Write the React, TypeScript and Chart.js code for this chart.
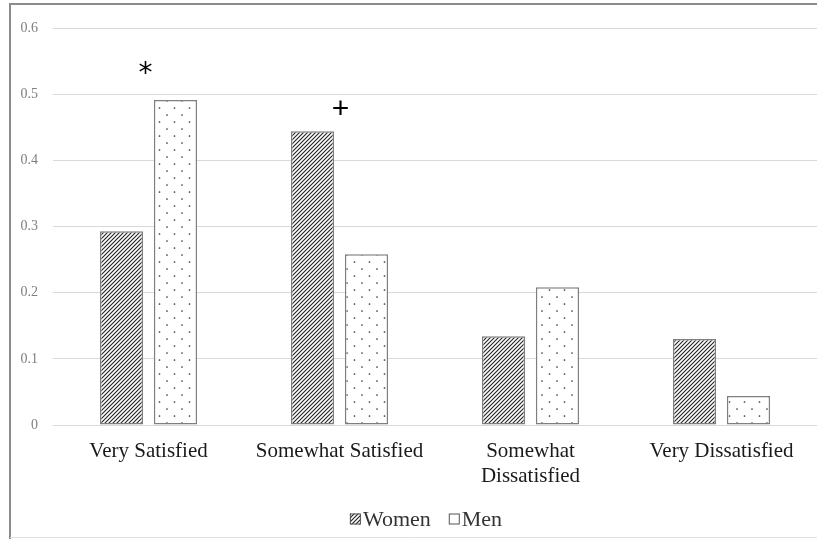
import React, { useEffect, useRef } from "react";
import { Chart, registerables } from "chart.js";

Chart.register(...registerables);

const categories: (string | string[])[] = [
  "Very Satisfied",
  "Somewhat Satisfied",
  ["Somewhat", "Dissatisfied"],
  "Very Dissatisfied",
];
const women = [0.293, 0.444, 0.134, 0.13];
const men = [0.491, 0.258, 0.208, 0.044];
const seriesNames = ["Women", "Men"];
const markers = ["*", "+", "", ""];
const markerValues = [0.53, 0.476, null, null];
const yMax = 0.6;
const yStep = 0.1;

function makeHatch(): CanvasPattern | string {
  const c = document.createElement("canvas");
  c.width = 4;
  c.height = 4;
  const x = c.getContext("2d");
  if (!x) return "#555";
  x.fillStyle = "#ffffff";
  x.fillRect(0, 0, 4, 4);
  x.strokeStyle = "#222222";
  x.lineWidth = 1.1;
  x.beginPath();
  x.moveTo(0, 4);
  x.lineTo(4, 0);
  x.moveTo(-1, 1);
  x.lineTo(1, -1);
  x.moveTo(3, 5);
  x.lineTo(5, 3);
  x.stroke();
  return x.createPattern(c, "repeat") || "#555";
}

function makeDots(): CanvasPattern | string {
  const c = document.createElement("canvas");
  c.width = 15;
  c.height = 14;
  const x = c.getContext("2d");
  if (!x) return "#fff";
  x.fillStyle = "#ffffff";
  x.fillRect(0, 0, 15, 14);
  x.fillStyle = "#333333";
  x.beginPath();
  x.arc(2, 3, 0.85, 0, Math.PI * 2);
  x.arc(9.5, 10, 0.85, 0, Math.PI * 2);
  x.fill();
  return x.createPattern(c, "repeat") || "#fff";
}

const framePlugin = {
  id: "frame",
  beforeDraw(chart: any) {
    const ctx = chart.ctx;
    ctx.save();
    ctx.fillStyle = "#ffffff";
    ctx.fillRect(0, 0, chart.width, chart.height);
    ctx.strokeStyle = "#8c8c8c";
    ctx.lineWidth = 2;
    ctx.beginPath();
    ctx.moveTo(10, chart.height);
    ctx.lineTo(10, 4);
    ctx.lineTo(chart.width, 4);
    ctx.stroke();
    ctx.strokeStyle = "#e0e0e0";
    ctx.lineWidth = 1;
    ctx.beginPath();
    ctx.moveTo(10, chart.height - 1.5);
    ctx.lineTo(chart.width, chart.height - 1.5);
    ctx.stroke();
    ctx.restore();
  },
};

const markerPlugin = {
  id: "markers",
  afterDatasetsDraw(chart: any) {
    const ctx = chart.ctx;
    const xs = chart.scales.x;
    const ys = chart.scales.y;
    ctx.save();
    ctx.fillStyle = "#000";
    ctx.textAlign = "center";
    ctx.textBaseline = "middle";
    markers.forEach((m, i) => {
      const v = markerValues[i];
      if (!m || v == null) return;
      ctx.font = m === "*" ? "28px 'DejaVu Sans'" : "30px 'Liberation Sans'";
      const dx = m === "*" ? -3 : 1;
      ctx.fillText(m, xs.getPixelForValue(i) + dx, ys.getPixelForValue(v));
    });
    ctx.restore();
  },
};

const legendPlugin = {
  id: "customLegend",
  afterDraw(chart: any) {
    const ctx = chart.ctx;
    const area = chart.chartArea;
    ctx.save();
    ctx.font = "22px 'Liberation Serif'";
    ctx.textBaseline = "middle";
    ctx.textAlign = "left";
    const box = 11;
    const gap = 2;
    const itemGap = 18;
    const widths = seriesNames.map((n) => box + gap + ctx.measureText(n).width);
    const total = widths.reduce((a, b) => a + b, 0) + itemGap * (seriesNames.length - 1);
    let x = (area.left + area.right) / 2 - 9 - total / 2;
    const y = chart.height - 20;
    seriesNames.forEach((n, i) => {
      const ds = chart.data.datasets[i];
      ctx.fillStyle = i === 0 ? ds.backgroundColor : "#ffffff";
      ctx.fillRect(x, y - box / 2, box, box);
      ctx.strokeStyle = "#555555";
      ctx.lineWidth = 1;
      ctx.strokeRect(x + 0.5, y - box / 2 + 0.5, box - 1, box - 1);
      ctx.fillStyle = "#333333";
      ctx.fillText(n, x + box + gap, y + 1);
      x += widths[i] + itemGap;
    });
    ctx.restore();
  },
};

export default function App() {
  const ref = useRef<HTMLCanvasElement>(null);
  useEffect(() => {
    if (!ref.current) return;
    const hatch = makeHatch();
    const dots = makeDots();
    const chart = new Chart(ref.current, {
      type: "bar",
      data: {
        labels: categories,
        datasets: [
          {
            label: seriesNames[0],
            data: women,
            backgroundColor: hatch as any,
            borderColor: "#7f7f7f",
            borderWidth: 1.5,
            borderSkipped: false,
            categoryPercentage: 0.565,
            barPercentage: 0.8,
          },
          {
            label: seriesNames[1],
            data: men,
            backgroundColor: dots as any,
            borderColor: "#7f7f7f",
            borderWidth: 1.5,
            borderSkipped: false,
            categoryPercentage: 0.565,
            barPercentage: 0.8,
          },
        ],
      },
      options: {
        animation: false,
        responsive: false,
        maintainAspectRatio: false,
        layout: { padding: { left: 0, right: 0, top: 28, bottom: 39 } },
        scales: {
          x: {
            grid: { display: false },
            border: { display: false },
            ticks: {
              color: "#1a1a1a",
              font: { family: "'Liberation Serif'", size: 21, lineHeight: 1.2 },
              padding: 6,
              maxRotation: 0,
              autoSkip: false,
            },
            afterFit(scale: any) {
              scale.height = 75;
            },
          },
          y: {
            min: 0,
            max: yMax,
            grid: { color: "#d9d9d9", lineWidth: 1, drawTicks: false },
            border: { display: false },
            ticks: {
              stepSize: yStep,
              padding: 15,
              color: "#808080",
              font: { family: "'Liberation Serif'", size: 14 },
              callback: (v: any) => (Number(v) === 0 ? "0" : Number(v).toFixed(1)),
            },
            afterFit(scale: any) {
              scale.width = 53;
            },
          },
        },
        plugins: {
          legend: { display: false },
          tooltip: { enabled: false },
        },
      },
      plugins: [framePlugin, markerPlugin, legendPlugin],
    });
    return () => chart.destroy();
  }, []);
  return (
    <div style={{ position: "fixed", left: 0, top: 0, width: 817, height: 539, background: "#fff" }}>
      <canvas ref={ref} width={817} height={539} style={{ display: "block", width: 817, height: 539 }} />
    </div>
  );
}
